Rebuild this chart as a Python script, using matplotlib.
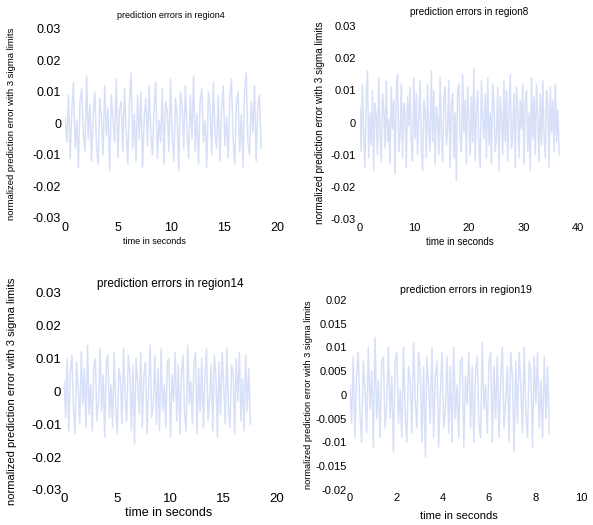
import numpy as np
import matplotlib
matplotlib.use('Agg')
import matplotlib.pyplot as plt

plt.rcParams['font.family'] = ['Liberation Sans', 'DejaVu Sans']

# prediction errors (units of 1e-3)
region4_err = [2, -6, 9, -11, 4, 13, -8, 1, -14, 7, 11, -3, -9, 15, -5, 6, -12, 3, 10, -7,
               -13, 8, 2, -10, 12, -4, 5, -15, 9, 1, -6, 14, -11, 4, 7, -9, 11, -2, -13, 6,
               16, -8, 3, -12, 9, -5, 10, -14, 2, 8, -7, 12, -3, -10, 5, 13, -11, 1, -6, 11,
               -13, 7, 4, -9, 14, -4, -12, 8, 2, -15, 10, 6, -8, 12, -2, -11, 9, -5, 15, -9,
               3, -13, 7, 11, -6, 1, -14, 10, 5, -10, 13, -3, -8, 9, -12, 4, 12, -7, 2, -11,
               8, 14, -5, -13, 6, 10, -9, 3, -14, 11, 16, -6, -10, 7, -3, 12, -12, 5, 9, -8]
region8_err = [5, -9, 12, -4, -14, 8, 16, -11, 3, -7, 10, -15, 6, 2, -10, 14, -3, -12, 9, 4,
               -8, 13, -6, 1, -13, 11, -2, 7, -16, 10, 15, -9, -4, 12, -11, 6, 3, -14, 8, -1,
               11, -7, -12, 14, -5, 9, -10, 2, 13, -8, -15, 7, 4, -11, 12, -3, -9, 16, -6, 10,
               -13, 5, 1, -10, 14, -4, -12, 8, 11, -7, -2, 13, -14, 6, 9, -11, 3, -18, 10, 12,
               -5, -9, 15, -3, 7, -13, 11, 2, -10, 8, -6, 17, -12, 4, 10, -8, -14, 13, 1, -5,
               9, -11, 14, -7, 3, -13, 12, 6, -9, -4, 11, -15, 8, 2, -10, 13, -6, 10, -12, 5,
               15, -8, -3, 9, -14, 11, 4, -11, 7, -2, 12, -13, 6, 10, -9, 3, -15, 14, -5, 8,
               -10, 12, 1, -12, 9, -7, 13, -4, -11, 10, 6, -14, 11, -3, 7, -9, 12, -6, 4, -10]
region14_err = [3, -8, 10, -12, 6, 11, -5, -13, 9, 1, -10, 12, -4, 7, -11, 14, -7, 2, -12, 8,
                10, -9, -3, 13, -6, 5, -14, 9, 11, -8, 2, -11, 12, -5, -13, 7, 4, -10, 13, -2,
                -9, 11, 6, -12, 8, -16, 10, 3, -7, 12, -11, 5, 9, -13, 1, 14, -8, -4, 11, -10,
                7, -12, 13, -6, 2, -11, 9, 10, -14, 5, -3, 12, -9, 8, -13, 6, 11, -7, -12, 14,
                -4, 3, -10, 9, 12, -13, 7, -6, 10, -11, 4, 13, -9, -2, 8, -12, 11, 5, -14, 9,
                -7, 12, 2, -10, 13, -5, -11, 8, 6, -13, 10, -3, 12, -9, 4, -12, 11, -6, 7, -10]
region19_err = [2, -6, 8, -9, 4, 9, -4, -10, 7, 1, -8, 10, -3, 5, -11, 12, -5, 3, -9, 7,
                8, -7, -2, 10, -5, 4, -12, 7, 9, -6, 1, -9, 10, -4, -10, 6, 3, -8, 11, -1,
                -7, 9, 5, -10, 6, -13, 8, 2, -6, 10, -9, 4, 7, -11, 0, 9, -7, -3, 8, -8,
                6, -10, 10, -5, 2, -9, 7, 8, -11, 4, -2, 9, -7, 6, -10, 5, 8, -6, -9, 11,
                -3, 2, -8, 7, 9, -10, 6, -5, 8, -9, 3, 10, -7, -1, 6, -10, 9, 4, -12, 7,
                -6, 9, 2, -8, 10, -4, -9, 7, 5, -11, 8, -2, 9, -7, 3, -9, 8, -5, 6, -8]

durations = [18.5, 36.5, 17.5, 8.6]
titles = ['prediction errors in region4', 'prediction errors in region8',
          'prediction errors in region14', 'prediction errors in region19']
xlims = [(0, 20), (0, 40), (0, 20), (0, 10)]
xticks = [[0, 5, 10, 15, 20], [0, 10, 20, 30, 40], [0, 5, 10, 15, 20], [0, 2, 4, 6, 8, 10]]
ylims = [(-0.03, 0.03), (-0.03, 0.03), (-0.03, 0.03), (-0.02, 0.02)]
yticks = [[-0.03, -0.02, -0.01, 0, 0.01, 0.02, 0.03]] * 3 + \
         [[-0.02, -0.015, -0.01, -0.005, 0, 0.005, 0.01, 0.015, 0.02]]
ytick_labels = [['-0.03', '-0.02', '-0.01', '0', '0.01', '0.02', '0.03']] * 3 + \
               [['-0.02', '-0.015', '-0.01', '-0.005', '0', '0.005', '0.01', '0.015', '0.02']]

errors = [region4_err, region8_err, region14_err, region19_err]
positions = [[0.110, 0.585, 0.357, 0.360],
             [0.607, 0.583, 0.368, 0.367],
             [0.108, 0.067, 0.359, 0.375],
             [0.590, 0.067, 0.391, 0.362]]
title_pads = [8, 8, 4, 5]
title_sizes = [6.5, 7.2, 8.5, 7.6]
tick_sizes = [9, 8, 9.5, 8]
tick_pads = [3, 3, 2, 2]
xlabel_sizes = [6.5, 7, 9, 8]
xlabel_xy = [(0.42, -0.10), (0.46, -0.093), (0.49, -0.085), (0.47, -0.11)]
ylabel_sizes = [6.8, 7.2, 8, 6.7]
ylabel_pads = [12, 4, 10, 2]

fig = plt.figure(figsize=(5.93, 5.25), dpi=100)

for i in range(4):
    ax = fig.add_axes(positions[i])
    err = np.array(errors[i]) * 1e-3
    t = np.linspace(0, durations[i], len(err))
    ax.plot(t, err, color='#cfd9f7', lw=1.1, alpha=0.8)

    ax.set_xlim(xlims[i])
    ax.set_ylim(ylims[i])
    ax.set_xticks(xticks[i])
    ax.set_yticks(yticks[i])
    ax.set_yticklabels(ytick_labels[i])
    ax.tick_params(length=0, labelsize=tick_sizes[i], pad=tick_pads[i])
    for s in ax.spines.values():
        s.set_visible(False)

    ax.set_title(titles[i], fontsize=title_sizes[i], pad=title_pads[i])
    ax.set_xlabel('time in seconds', fontsize=xlabel_sizes[i])
    ax.xaxis.set_label_coords(*xlabel_xy[i])
    ax.set_ylabel('normalized prediction error with 3 sigma limits',
                  fontsize=ylabel_sizes[i], labelpad=ylabel_pads[i])

fig.savefig('out.png', dpi=100, facecolor='white')
